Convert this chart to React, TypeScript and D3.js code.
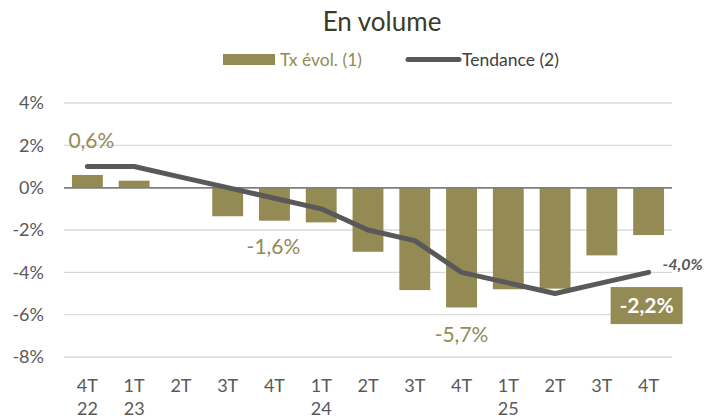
import React from 'react';
import * as d3 from 'd3';

const quarters = ['4T', '1T', '2T', '3T', '4T', '1T', '2T', '3T', '4T', '1T', '2T', '3T', '4T'];
const years = ['22', '23', '', '', '', '24', '', '', '', '25', '', '', ''];
const txEvol = [0.6, 0.33, 0, -1.35, -1.56, -1.64, -3.03, -4.84, -5.66, -4.8, -4.77, -3.2, -2.24];
const tendance = [1.0, 1.0, 0.5, 0.0, -0.5, -1.0, -2.0, -2.5, -4.0, -4.5, -5.0, -4.5, -4.0];
const yTicks = [4, 2, 0, -2, -4, -6, -8];

const OLIVE = '#948A54';
const GREY = '#595959';
const FONT = 'Lato, "Open Sans", sans-serif';

const W = 709;
const H = 419;
const margin = { top: 103, right: 37, bottom: 62, left: 64 };

export default function App() {
  const innerW = W - margin.left - margin.right;
  const idx = quarters.map((_, i) => String(i));

  const x = d3.scaleBand().domain(idx).range([margin.left, margin.left + innerW]).paddingInner(0.34).paddingOuter(0.17);
  const xc = (i: number) => (x(String(i)) ?? 0) + x.bandwidth() / 2;
  const y = d3.scaleLinear().domain([-8, 4]).range([H - margin.bottom, margin.top]);

  const line = d3
    .line<number>()
    .x((_, i) => xc(i))
    .y((d) => y(d));

  const fmt = (v: number) => v.toFixed(1).replace('.', ',') + '%';

  return (
    <svg width={W} height={H} style={{ position: 'absolute', left: 0, top: 0 }} fontFamily={FONT}>
      <rect width={W} height={H} fill="#fff" />
      {/* title */}
      <text x={382} y={31} textAnchor="middle" fontSize={26} fill="#3d3a26">
        En volume
      </text>

      {/* legend */}
      <rect x={223} y={54} width={52} height={11} fill={OLIVE} />
      <text x={280} y={66} fontSize={17.5} fill={OLIVE}>
        Tx évol. (1)
      </text>
      <line x1={408} x2={459} y1={59.5} y2={59.5} stroke={GREY} strokeWidth={5} strokeLinecap="round" />
      <text x={462} y={66} fontSize={17.5} fill="#404040">
        Tendance (2)
      </text>

      {/* grid */}
      {yTicks.map((t) => (
        <g key={t}>
          <line
            x1={margin.left}
            x2={margin.left + innerW}
            y1={y(t)}
            y2={y(t)}
            stroke={t === 0 ? '#7f7f7f' : '#d9d9d9'}
            strokeWidth={t === 0 ? 1.5 : 1.3}
          />
          <text x={44} y={y(t)} dy="0.35em" textAnchor="end" fontSize={18} fill={GREY}>
            {t}%
          </text>
        </g>
      ))}

      {/* bars */}
      {txEvol.map((v, i) => (
        <rect
          key={i}
          x={x(String(i))}
          width={x.bandwidth()}
          y={y(Math.max(0, v))}
          height={Math.abs(y(v) - y(0))}
          fill={OLIVE}
        />
      ))}
      <line x1={margin.left} x2={margin.left + innerW} y1={y(0)} y2={y(0)} stroke="#7f7f7f" strokeWidth={1.5} />

      {/* trend line */}
      <path d={line(tendance) ?? ''} fill="none" stroke={GREY} strokeWidth={5} strokeLinecap="round" strokeLinejoin="round" />

      {/* x axis labels */}
      {quarters.map((q, i) => (
        <g key={i}>
          <text x={xc(i)} y={392} textAnchor="middle" fontSize={18} fill={GREY}>
            {q}
          </text>
          {years[i] && (
            <text x={xc(i)} y={415} textAnchor="middle" fontSize={18} fill={GREY}>
              {years[i]}
            </text>
          )}
        </g>
      ))}

      {/* data labels */}
      <text x={xc(0) + 4} y={y(txEvol[0]) - 27} textAnchor="middle" fontSize={21} fill={OLIVE}>
        {fmt(txEvol[0])}
      </text>
      <text x={xc(4) - 1} y={y(txEvol[4]) + 33} textAnchor="middle" fontSize={21} fill={OLIVE}>
        {fmt(txEvol[4])}
      </text>
      <text x={xc(8)} y={y(txEvol[8]) + 35} textAnchor="middle" fontSize={21} fill={OLIVE}>
        {fmt(txEvol[8])}
      </text>
      <text x={xc(12) + 14} y={y(tendance[12]) - 2} fontSize={16} fontStyle="italic" fontWeight="bold" fill={GREY}>
        {fmt(tendance[12])}
      </text>
      <rect x={xc(12) - 38} y={y(txEvol[12]) + 52} width={72} height={37} fill={OLIVE} />
      <text x={xc(12) - 2} y={y(txEvol[12]) + 70.5} dy="0.35em" textAnchor="middle" fontSize={21} fontWeight="bold" fill="#fff">
        {fmt(txEvol[12])}
      </text>
    </svg>
  );
}
